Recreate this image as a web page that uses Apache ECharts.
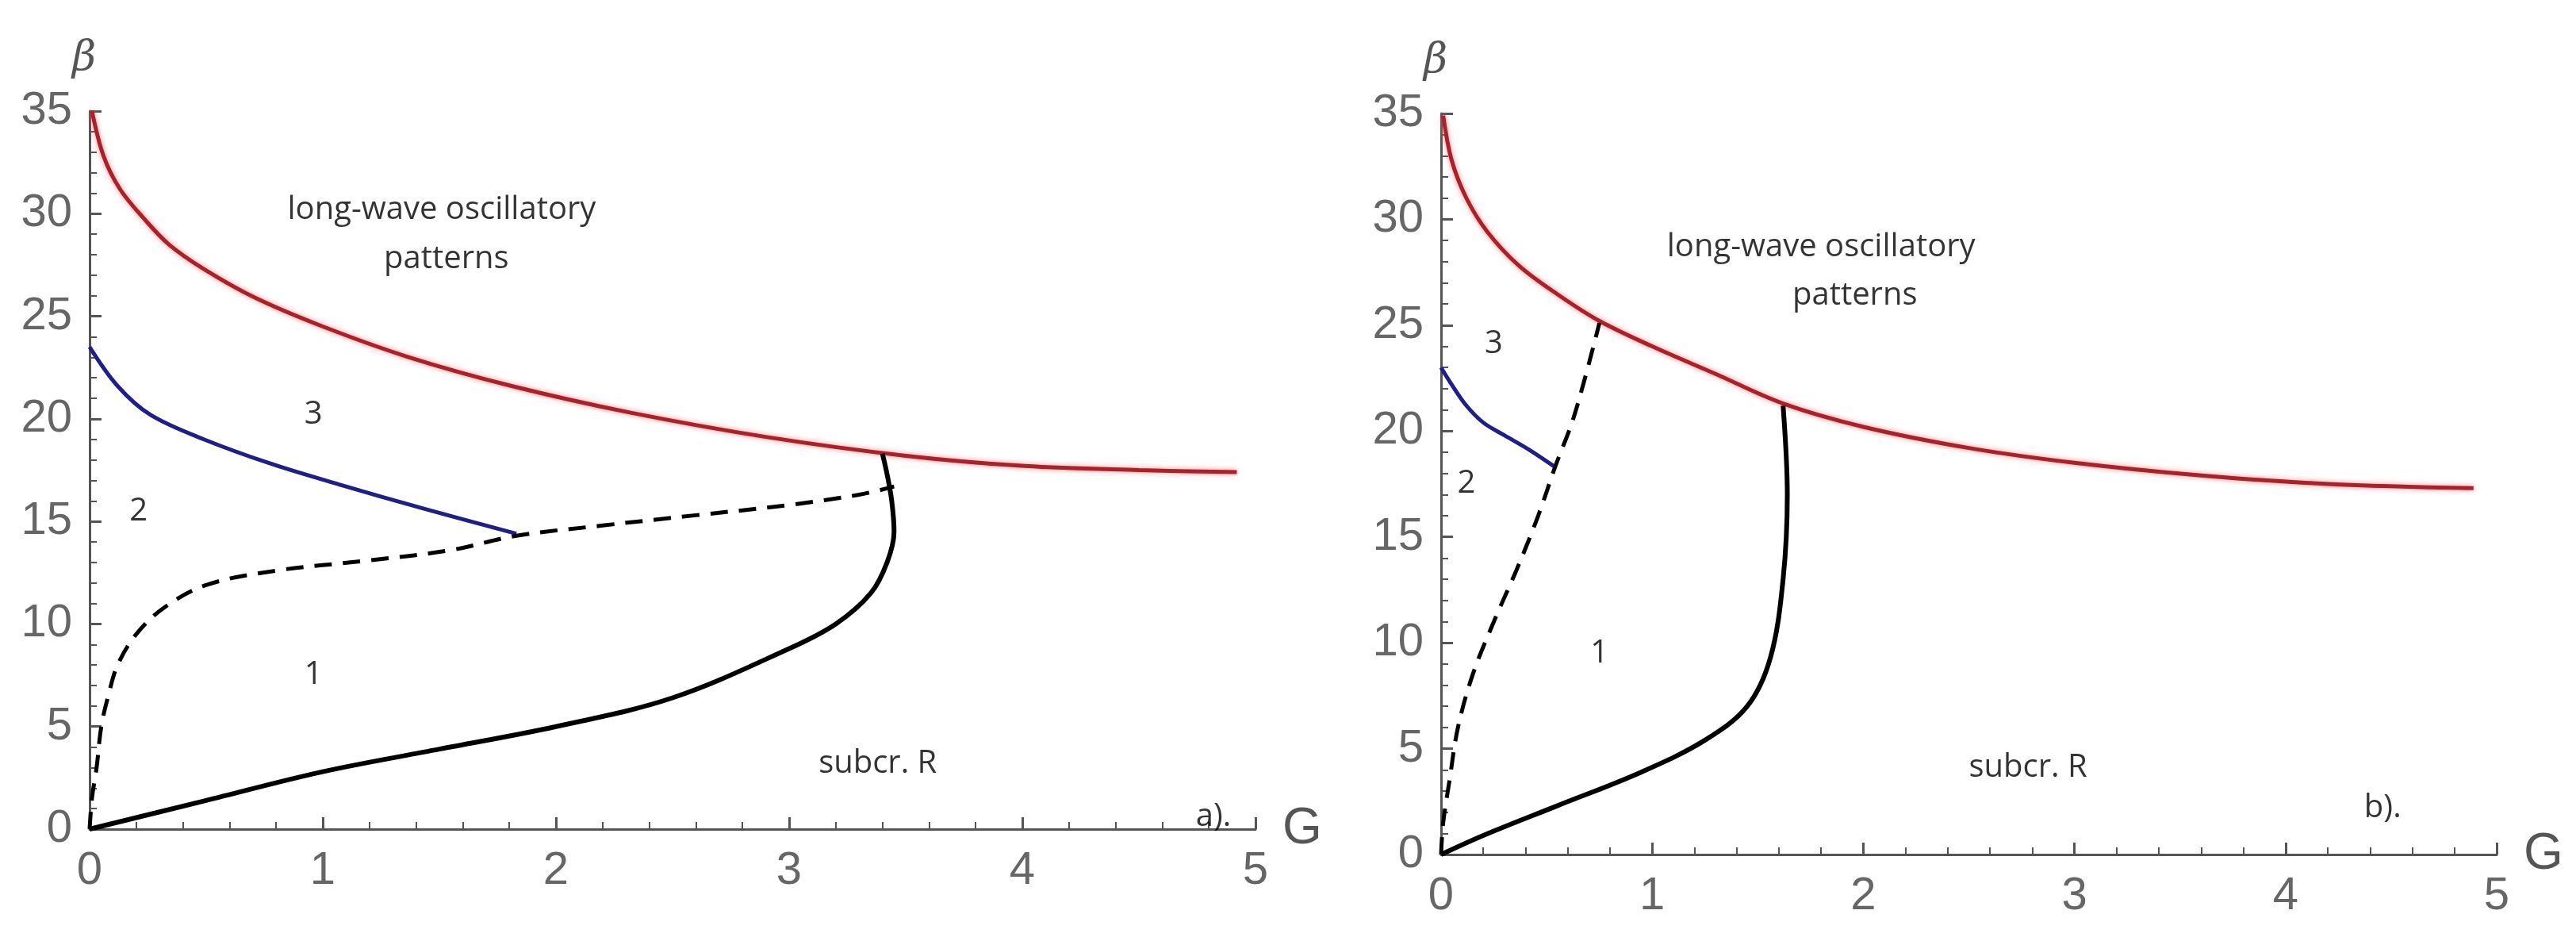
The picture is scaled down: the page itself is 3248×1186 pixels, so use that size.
<!DOCTYPE html>
<html>
<head>
<meta charset="utf-8">
<script src="https://cdn.jsdelivr.net/npm/echarts/dist/echarts.min.js"></script>
<style>
html,body{margin:0;padding:0;background:#fff;}
#chart{width:3248px;height:1186px;}
</style>
</head>
<body>
<div id="chart"></div>
<script>
// ---------- data (G, beta) ----------
const xTicks = [0, 1, 2, 3, 4, 5];
const yTicks = [0, 5, 10, 15, 20, 25, 30, 35];

// panel a)
const aRed = [[0.01,35],[0.06,32.8],[0.13,31.2],[0.23,29.8],[0.34,28.5],[0.49,27.3],[0.71,25.9],[1.0,24.5],[1.37,23],[1.81,21.6],[2.32,20.3],[2.91,19.1],[3.5,18.2],[4.01,17.7],[4.5,17.5],[4.92,17.4]];
const aBlue = [[0,23.5],[0.12,21.6],[0.26,20.2],[0.49,19],[0.78,17.8],[1.07,16.8],[1.44,15.6],[1.83,14.4]];
const aDashed = [[0,0],[0.01,1.5],[0.03,3],[0.05,5],[0.08,6.5],[0.12,8],[0.2,9.5],[0.32,10.8],[0.5,11.9],[0.8,12.6],[1.2,13.1],[1.55,13.6],[1.83,14.3],[2.2,14.8],[2.6,15.3],[3,15.8],[3.3,16.3],[3.45,16.7]];
const aSolid = [[0,0],[0.5,1.4],[1,2.8],[1.5,3.9],[2,5],[2.5,6.4],[3,8.8],[3.2,10],[3.35,11.5],[3.42,13],[3.45,14.5],[3.44,16],[3.42,17.3],[3.4,18.3]];
const aText = [
  {name:'long-wave oscillatory', value:[1.51,30.2]},
  {name:'patterns', value:[1.53,27.8]},
  {name:'3', value:[0.96,20.2]},
  {name:'2', value:[0.21,15.5]},
  {name:'1', value:[0.96,7.5]},
  {name:'subcr. R', value:[3.38,3.2]},
  {name:'a).', value:[4.82,0.6]}
];

// panel b)
const bRed = [[0.01,34.9],[0.05,32.8],[0.12,31],[0.22,29.4],[0.37,27.8],[0.56,26.4],[0.75,25.2],[1.0,24],[1.3,22.7],[1.62,21.3],[2.0,20.2],[2.5,19.2],[3.0,18.5],[3.6,17.9],[4.2,17.5],[4.89,17.3]];
const bBlue = [[0,23],[0.05,22.2],[0.12,21.2],[0.2,20.4],[0.3,19.8],[0.42,19.1],[0.54,18.3]];
const bDashed = [[0,0],[0.01,1.5],[0.04,3.5],[0.08,6],[0.15,8.5],[0.25,11],[0.36,13.5],[0.46,16],[0.54,18.3],[0.63,20.7],[0.75,25.1]];
const bSolid = [[0,0],[0.2,0.9],[0.55,2.3],[0.95,3.9],[1.25,5.4],[1.45,7],[1.56,9.3],[1.62,13],[1.64,17],[1.62,21.2]];
const bText = [
  {name:'long-wave oscillatory', value:[1.8,28.7]},
  {name:'patterns', value:[1.96,26.4]},
  {name:'3', value:[0.25,24.1]},
  {name:'2', value:[0.12,17.5]},
  {name:'1', value:[0.75,9.5]},
  {name:'subcr. R', value:[2.78,4.1]},
  {name:'b).', value:[4.46,2.2]}
];

// ---------- styles ----------
const axisColor = '#555';
const labelFont = 'Liberation Sans, Arial, sans-serif';

function xAxisOf(gi){
  return {
    type:'value', gridIndex:gi, min:0, max:5, interval:1,
    name:'G', nameLocation:'end', nameGap:34,
    nameTextStyle:{fontFamily:labelFont, fontSize:64, color:'#555', padding:[0,0,6,0]},
    axisLine:{show:true, lineStyle:{color:axisColor, width:3}},
    axisTick:{show:true, inside:true, length:15, lineStyle:{color:axisColor, width:3}},
    minorTick:{show:true, splitNumber:5, length:9, lineStyle:{color:axisColor, width:2}},
    splitLine:{show:false},
    axisLabel:{fontFamily:labelFont, fontSize:58, color:'#666', margin:24,
      formatter:v=> xTicks.indexOf(v)>=0 ? String(v) : ''}
  };
}
function yAxisOf(gi){
  return {
    type:'value', gridIndex:gi, min:0, max:35, interval:5,
    name:'β', nameLocation:'end', nameGap:40,
    nameTextStyle:{fontFamily:'DejaVu Serif, serif', fontStyle:'italic', fontSize:52, color:'#555', padding:[0,14,0,0]},
    axisLine:{show:true, lineStyle:{color:axisColor, width:3}},
    axisTick:{show:true, inside:true, length:15, lineStyle:{color:axisColor, width:3}},
    minorTick:{show:true, splitNumber:5, length:9, lineStyle:{color:axisColor, width:2}},
    splitLine:{show:false},
    axisLabel:{fontFamily:labelFont, fontSize:58, color:'#666', margin:22,
      formatter:v=> yTicks.indexOf(v)>=0 ? String(v) : ''}
  };
}
function line(data, gi, style){
  return {type:'line', xAxisIndex:gi, yAxisIndex:gi, data:data, showSymbol:false, symbol:'none',
    smooth:0.35, clip:false, silent:true, lineStyle:style, z:3};
}
const redStyle = {color:'#a8222c', width:5, shadowColor:'rgba(255,90,90,0.75)', shadowBlur:6};
const blueStyle = {color:'#1f1f85', width:5};
const solidStyle = {color:'#000', width:6};
const dashStyle = {color:'#000', width:5, type:[22,14]};

function texts(data, gi){
  return {type:'scatter', xAxisIndex:gi, yAxisIndex:gi, data:data, symbolSize:0, silent:true, z:5,
    label:{show:true, position:'inside', formatter:p=>p.name, fontFamily:'Open Sans, sans-serif', fontSize:40, color:'#000'}};
}

const chart = echarts.init(document.getElementById('chart'), null, {renderer:'canvas'});
chart.setOption({
  animation:false,
  backgroundColor:'#fff',
  grid:[
    {left:113, top:140, width:1470, height:905},
    {left:1817, top:143, width:1331, height:934}
  ],
  xAxis:[xAxisOf(0), xAxisOf(1)],
  yAxis:[yAxisOf(0), yAxisOf(1)],
  series:[
    line(aRed,0,redStyle), line(aBlue,0,blueStyle), line(aDashed,0,dashStyle), line(aSolid,0,solidStyle), texts(aText,0),
    line(bRed,1,redStyle), line(bBlue,1,blueStyle), line(bDashed,1,dashStyle), line(bSolid,1,solidStyle), texts(bText,1)
  ]
});
</script>
</body>
</html>
